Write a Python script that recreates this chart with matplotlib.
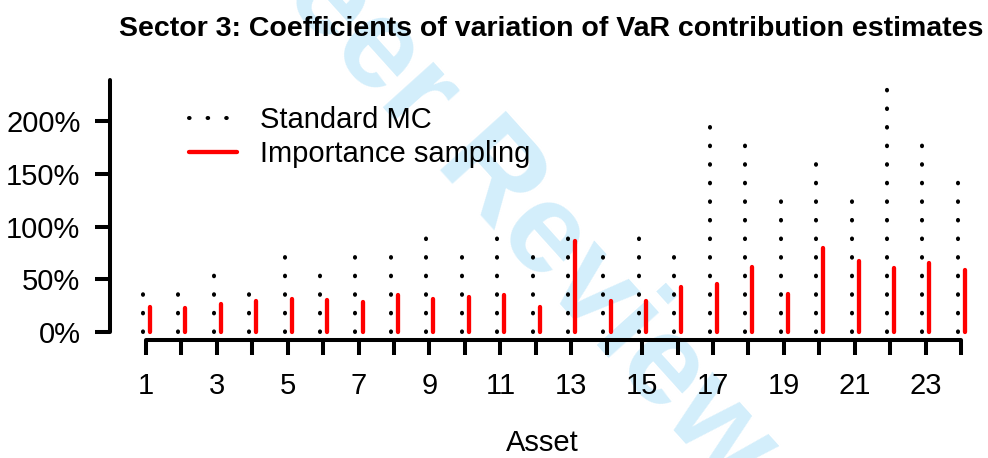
"""
Sector 3: coeficientes de variação das contribuições de VaR,
MC padrão contra importance sampling, por ativo.
"""

import matplotlib
matplotlib.use("Agg")
import matplotlib.pyplot as plt
from matplotlib.lines import Line2D


# ─────────────────────────────────────────────
# DADOS (em %)
# ─────────────────────────────────────────────

ativos = list(range(1, 25))

cv_mc_padrao = [41, 41, 59, 41, 77, 59, 77, 77, 94, 77, 94, 77,
                94, 77, 94, 77, 200, 183, 130, 165, 130, 235, 183, 147]

cv_importance = [24, 23, 27, 29, 31.5, 30, 28, 35.5, 31, 33.5, 35, 23.5,
                 86, 29, 29.5, 42.5, 46, 61.5, 36.5, 80, 67.5, 60.5, 65, 58.5]

y_ticks = [0, 50, 100, 150, 200]
y_labels = ["0%", "50%", "100%", "150%", "200%"]
x_labels = [str(a) if a % 2 == 1 else "" for a in ativos]

titulo = "Sector 3: Coefficients of variation of VaR contribution estimates"
nomes_series = ["Standard MC", "Importance sampling"]


# ─────────────────────────────────────────────
# ESTILO
# ─────────────────────────────────────────────

W, H, DPI = 988, 458, 100
FONTE = "Liberation Sans"
TAM = 21
LW_EIXO = 2.9
LW_PONTO = 2.9
LW_VERMELHO = 3.1
PONTILHADO = (0, (0.15, 4.463))   # pontos redondos, ~18.6 px de espaço
DESLOC_MC = -0.09
DESLOC_IS = 0.11

plt.rcParams["font.family"] = [FONTE, "DejaVu Sans"]


def px(x, y):
    """Converte pixel (origem no topo) para coordenadas da figura."""
    return x / W, 1 - y / H


fig = plt.figure(figsize=(W / DPI, H / DPI), dpi=DPI)

# marca d'água (atrás de tudo)
fig.text(*px(420, 100), "For Peer Review", fontsize=92, fontweight="bold",
         color="#d3eefb", rotation=-48, ha="center", va="center",
         zorder=-10, rotation_mode="anchor")

x0, y0 = px(110, 332)
x1, y1 = px(975, 79)
ax = fig.add_axes([x0, y0, x1 - x0, y1 - y0])
ax.patch.set_alpha(0)

ax.vlines([a + DESLOC_MC for a in ativos], 0, cv_mc_padrao,
          colors="black", linewidths=LW_PONTO, linestyles=[PONTILHADO],
          capstyle="round", clip_on=False)
ax.vlines([a + DESLOC_IS for a in ativos], 0, cv_importance,
          colors="#ff0000", linewidths=LW_VERMELHO, capstyle="round",
          clip_on=False)

ax.set_xlim(1 - 36 / 35.43, 24 + 14 / 35.43)
ax.set_ylim(0, 240)

for lado in ["top", "right"]:
    ax.spines[lado].set_visible(False)
ax.spines["left"].set_bounds(0, 239)
ax.spines["left"].set_linewidth(LW_EIXO)
ax.spines["bottom"].set_position(("outward", 5.8))
ax.spines["bottom"].set_bounds(1, 24)
ax.spines["bottom"].set_linewidth(LW_EIXO)
ax.spines["left"].set_capstyle("round")
ax.spines["bottom"].set_capstyle("round")

ax.set_yticks(y_ticks, y_labels)
ax.set_xticks(ativos, x_labels)
ax.tick_params(axis="both", length=10.8, width=LW_EIXO, labelsize=TAM)
ax.tick_params(axis="y", pad=10.5)
ax.tick_params(axis="x", pad=12)

fig.text(*px(542, 443), "Asset", fontsize=TAM, ha="center", va="center")
fig.text(*px(551, 29), titulo, fontsize=20.5, fontweight="bold",
         ha="center", va="center")

alcas = [
    Line2D([], [], color="black", lw=LW_PONTO, linestyle=PONTILHADO,
           dash_capstyle="round"),
    Line2D([], [], color="#ff0000", lw=LW_VERMELHO, solid_capstyle="round"),
]
ax.legend(alcas, nomes_series, loc="upper left",
          bbox_to_anchor=px(189, 106), bbox_transform=fig.transFigure,
          frameon=False, fontsize=TAM, borderpad=0, borderaxespad=0,
          handlelength=1.64, handletextpad=0.8, labelspacing=0.2)

fig.savefig("out.png", dpi=DPI)
